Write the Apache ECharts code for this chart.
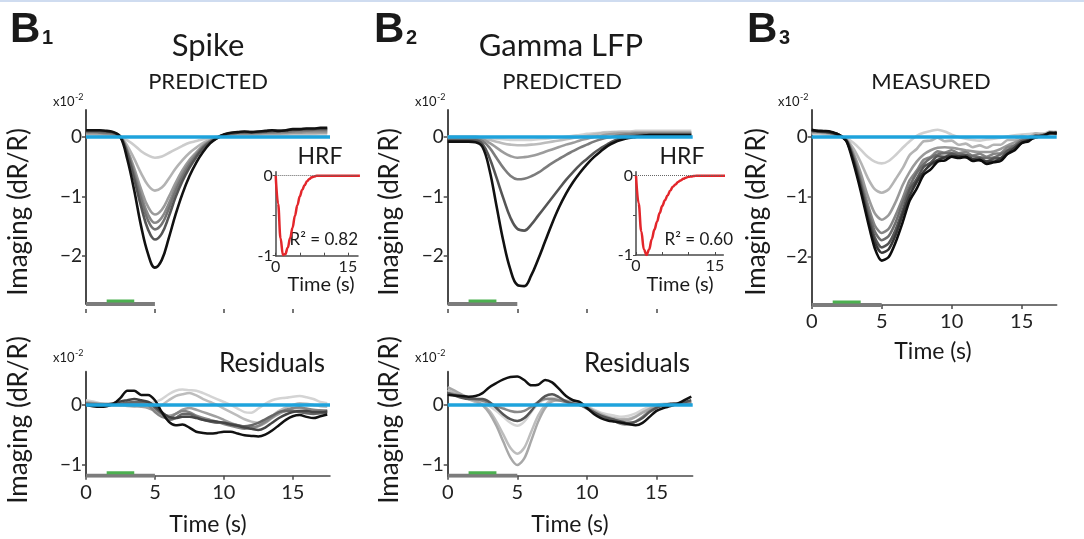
<!DOCTYPE html>
<html>
<head>
<meta charset="utf-8">
<script src="https://cdn.jsdelivr.net/npm/echarts@6/dist/echarts.min.js"></script>
<style>
html,body{margin:0;padding:0;background:#fff;}
#chart{width:1084px;height:539px;}
</style>
</head>
<body>
<div id="chart"></div>
<script>
// time base (s), shared by every trace
var T = [0,0.5,1,1.5,2,2.5,3,3.5,4,4.5,5,5.5,6,6.5,7,7.5,8,8.5,9,9.5,10,10.5,11,11.5,12,12.5,13,13.5,14,14.5,15,15.5,16,16.5,17,17.5];

// stimulus window and laser window (s)
var stimOn = [0, 5];
var laserOn = [1.5, 3.5];

// B1 spike predicted (x1e-2 dR/R)
var spike1 = [0.03,0.03,0.02,0.02,0.01,0.0,-0.06,-0.14,-0.24,-0.31,-0.35,-0.33, -0.27,-0.21,-0.15,-0.1,-0.07,-0.04,-0.02,0.0,0.01,0.01,0.02,0.02, 0.01,0.02,0.02,0.02,0.03,0.03,0.03,0.03,0.03,0.04,0.04,0.04];
var spike2 = [0.05,0.05,0.04,0.04,0.03,0.0,-0.15,-0.37,-0.61,-0.81,-0.9,-0.85, -0.7,-0.53,-0.39,-0.27,-0.18,-0.1,-0.05,-0.01,0.02,0.03,0.04,0.04, 0.04,0.04,0.05,0.05,0.05,0.05,0.06,0.06,0.06,0.06,0.07,0.07];
var spike3 = [0.06,0.06,0.06,0.05,0.04,0.0,-0.22,-0.53,-0.88,-1.17,-1.3,-1.22, -1.01,-0.77,-0.56,-0.39,-0.26,-0.14,-0.07,-0.01,0.03,0.04,0.05,0.05, 0.05,0.05,0.06,0.06,0.06,0.07,0.07,0.07,0.08,0.08,0.08,0.08];
var spike4 = [0.08,0.08,0.07,0.06,0.05,0.0,-0.24,-0.59,-0.98,-1.3,-1.44,-1.35, -1.12,-0.85,-0.62,-0.43,-0.29,-0.16,-0.07,-0.01,0.03,0.05,0.06,0.06, 0.06,0.07,0.07,0.07,0.08,0.08,0.09,0.09,0.1,0.1,0.1,0.1];
var spike5 = [0.09,0.09,0.08,0.07,0.06,0.0,-0.26,-0.64,-1.05,-1.4,-1.55,-1.46, -1.21,-0.91,-0.67,-0.47,-0.31,-0.17,-0.08,-0.02,0.03,0.05,0.07,0.07, 0.07,0.08,0.08,0.09,0.09,0.09,0.1,0.11,0.11,0.12,0.12,0.12];
var spike6 = [0.1,0.1,0.1,0.09,0.07,0.0,-0.29,-0.71,-1.17,-1.55,-1.72,-1.62, -1.34,-1.01,-0.74,-0.52,-0.34,-0.19,-0.09,-0.02,0.03,0.06,0.07,0.08, 0.08,0.08,0.09,0.1,0.1,0.11,0.12,0.12,0.13,0.13,0.14,0.14];
var spike7 = [0.11,0.11,0.11,0.1,0.08,0.0,-0.38,-0.9,-1.5,-1.96,-2.19,-2.06, -1.7,-1.3,-0.95,-0.66,-0.43,-0.25,-0.11,-0.02,0.04,0.07,0.08,0.09, 0.08,0.09,0.1,0.11,0.1,0.11,0.13,0.13,0.14,0.14,0.15,0.15];

// B2 gamma LFP predicted
var gamma1 = [0.0,0.0,0.0,0.0,0.0,-0.01,-0.02,-0.03,-0.04,-0.05,-0.05,-0.05, -0.05,-0.04,-0.03,-0.02,-0.01,0.0,0.02,0.03,0.05,0.06,0.07,0.08, 0.08,0.09,0.09,0.1,0.1,0.1,0.1,0.1,0.1,0.1,0.1,0.1];
var gamma2 = [0.0,0.0,0.0,0.0,0.0,-0.02,-0.05,-0.08,-0.11,-0.13,-0.14,-0.14, -0.13,-0.12,-0.1,-0.08,-0.06,-0.04,-0.02,0.0,0.02,0.04,0.06,0.07, 0.08,0.08,0.08,0.08,0.08,0.08,0.08,0.08,0.08,0.08,0.08,0.08];
var gamma3 = [-0.02,-0.02,-0.02,-0.02,-0.02,-0.04,-0.1,-0.18,-0.26,-0.32,-0.35,-0.34, -0.32,-0.29,-0.25,-0.21,-0.17,-0.13,-0.1,-0.06,-0.03,0.0,0.02,0.04, 0.05,0.06,0.06,0.07,0.07,0.07,0.07,0.07,0.07,0.07,0.07,0.07];
var gamma4 = [-0.04,-0.04,-0.04,-0.04,-0.04,-0.07,-0.18,-0.35,-0.52,-0.65,-0.71,-0.7, -0.66,-0.6,-0.52,-0.44,-0.37,-0.3,-0.24,-0.18,-0.13,-0.08,-0.04,-0.01, 0.01,0.03,0.04,0.05,0.05,0.05,0.05,0.05,0.05,0.05,0.05,0.05];
var gamma5 = [-0.06,-0.06,-0.06,-0.06,-0.06,-0.12,-0.35,-0.68,-1.03,-1.35,-1.54,-1.57, -1.47,-1.32,-1.17,-1.02,-0.87,-0.72,-0.59,-0.47,-0.37,-0.27,-0.19,-0.12, -0.06,-0.02,0.0,0.02,0.03,0.03,0.03,0.03,0.03,0.03,0.03,0.03];
var gamma6 = [-0.08,-0.08,-0.08,-0.08,-0.09,-0.17,-0.55,-1.15,-1.75,-2.22,-2.48,-2.5, -2.32,-2.05,-1.75,-1.45,-1.18,-0.95,-0.76,-0.6,-0.46,-0.34,-0.24,-0.15, -0.09,-0.05,-0.02,0.0,0.02,0.03,0.03,0.03,0.03,0.03,0.03,0.03];

// B3 measured
var meas1 = [0.06,0.05,0.04,0.03,0.01,-0.02,-0.1,-0.21,-0.33,-0.41,-0.44,-0.4, -0.3,-0.18,-0.07,0.02,0.07,0.1,0.12,0.09,0.04,0.0,-0.03,-0.05, -0.06,-0.04,-0.03,-0.01,0.01,0.03,0.04,0.05,0.06,0.06,0.08,0.09];
var meas2 = [0.08,0.07,0.06,0.05,0.02,-0.04,-0.2,-0.42,-0.68,-0.87,-0.93,-0.87, -0.7,-0.52,-0.3,-0.2,-0.07,-0.06,-0.01,-0.07,-0.06,-0.13,-0.11,-0.17, -0.14,-0.18,-0.13,-0.13,-0.05,-0.05,0.02,0.0,0.06,0.03,0.09,0.06];
var meas3 = [0.08,0.08,0.07,0.05,0.02,-0.05,-0.28,-0.6,-0.98,-1.27,-1.38,-1.3, -1.08,-0.8,-0.58,-0.41,-0.29,-0.22,-0.18,-0.17,-0.18,-0.2,-0.22,-0.24, -0.25,-0.25,-0.24,-0.2,-0.14,-0.09,-0.04,0.0,0.02,0.04,0.05,0.07];
var meas4 = [0.09,0.09,0.08,0.06,0.02,-0.06,-0.32,-0.7,-1.12,-1.47,-1.6,-1.53, -1.3,-1.02,-0.72,-0.56,-0.38,-0.33,-0.24,-0.26,-0.22,-0.27,-0.25,-0.31, -0.28,-0.33,-0.28,-0.27,-0.17,-0.14,-0.04,-0.04,0.03,0.01,0.07,0.05];
var meas5 = [0.1,0.09,0.08,0.06,0.02,-0.06,-0.35,-0.76,-1.2,-1.57,-1.72,-1.65, -1.42,-1.1,-0.82,-0.6,-0.45,-0.35,-0.29,-0.27,-0.27,-0.28,-0.3,-0.32, -0.34,-0.35,-0.34,-0.29,-0.22,-0.14,-0.07,-0.03,0.0,0.03,0.05,0.07];
var meas6 = [0.11,0.1,0.09,0.07,0.03,-0.07,-0.38,-0.8,-1.28,-1.67,-1.84,-1.77, -1.54,-1.22,-0.88,-0.7,-0.5,-0.43,-0.32,-0.33,-0.28,-0.32,-0.3,-0.37, -0.35,-0.41,-0.36,-0.35,-0.23,-0.18,-0.07,-0.06,0.02,0.01,0.07,0.05];
var meas7 = [0.11,0.1,0.09,0.07,0.03,-0.07,-0.4,-0.85,-1.34,-1.75,-1.93,-1.87, -1.63,-1.29,-0.98,-0.75,-0.58,-0.46,-0.38,-0.34,-0.32,-0.32,-0.34,-0.37, -0.39,-0.41,-0.41,-0.36,-0.28,-0.18,-0.1,-0.05,-0.01,0.03,0.06,0.08];
var meas8 = [0.12,0.1,0.1,0.08,0.03,-0.08,-0.45,-0.9,-1.4,-1.85,-2.06,-2.0, -1.75,-1.42,-1.06,-0.86,-0.63,-0.54,-0.41,-0.39,-0.33,-0.35,-0.33,-0.4, -0.38,-0.45,-0.42,-0.4,-0.28,-0.22,-0.1,-0.07,0.01,0.01,0.07,0.06];

// residuals, spike model
var resS1 = [0.08,0.06,0.03,0.02,0.02,0.0,-0.02,-0.03,0.0,0.02,0.05,0.1, 0.18,0.24,0.26,0.25,0.24,0.2,0.15,0.1,0.05,0.0,-0.06,-0.12, -0.13,-0.06,0.02,0.08,0.11,0.12,0.14,0.15,0.13,0.1,0.05,0.03];
var resS2 = [0.05,0.04,0.02,0.02,0.01,0.0,0.0,-0.01,-0.02,-0.03,-0.05,0.0, 0.08,0.15,0.18,0.2,0.16,0.1,0.05,0.0,-0.06,-0.12,-0.18,-0.24, -0.28,-0.3,-0.26,-0.18,-0.1,-0.04,0.0,0.03,0.02,0.0,-0.02,-0.03];
var resS3 = [0.04,0.03,0.02,0.01,0.0,0.0,-0.01,-0.02,-0.03,-0.05,-0.1,-0.15, -0.18,-0.15,-0.08,-0.05,-0.08,-0.12,-0.16,-0.2,-0.25,-0.3,-0.34,-0.37, -0.38,-0.36,-0.3,-0.22,-0.15,-0.1,-0.06,-0.05,-0.07,-0.1,-0.1,-0.09];
var resS4 = [0.03,0.02,0.01,0.0,0.0,0.0,0.02,0.03,0.02,0.0,-0.12,-0.2, -0.22,-0.15,-0.1,-0.12,-0.18,-0.22,-0.25,-0.28,-0.32,-0.35,-0.38,-0.4, -0.38,-0.35,-0.28,-0.2,-0.12,-0.08,-0.05,-0.04,-0.06,-0.08,-0.09,-0.1];
var resS5 = [0.02,0.01,0.0,0.0,0.01,0.02,0.04,0.05,0.05,0.05,-0.05,-0.15, -0.25,-0.22,-0.15,-0.15,-0.2,-0.25,-0.28,-0.3,-0.3,-0.32,-0.34,-0.36, -0.34,-0.3,-0.24,-0.18,-0.12,-0.1,-0.1,-0.12,-0.14,-0.15,-0.14,-0.13];
var resS6 = [0.01,0.0,0.0,0.01,0.03,0.06,0.08,0.1,0.08,0.05,-0.02,-0.12, -0.2,-0.22,-0.2,-0.2,-0.22,-0.25,-0.27,-0.28,-0.3,-0.33,-0.35,-0.38, -0.4,-0.42,-0.38,-0.3,-0.22,-0.16,-0.12,-0.1,-0.1,-0.12,-0.12,-0.11];
var resS7 = [0.0,-0.02,-0.03,-0.02,0.02,0.12,0.24,0.24,0.17,0.17,0.08,-0.12, -0.28,-0.34,-0.33,-0.38,-0.45,-0.47,-0.48,-0.47,-0.45,-0.45,-0.48,-0.51, -0.52,-0.53,-0.5,-0.43,-0.34,-0.25,-0.19,-0.17,-0.2,-0.22,-0.19,-0.16];

// residuals, gamma model
var resG1 = [0.25,0.2,0.15,0.1,0.07,0.03,-0.02,-0.1,-0.2,-0.3,-0.35,-0.28, -0.12,0.02,0.1,0.12,0.1,0.07,0.05,0.02,-0.02,-0.08,-0.13,-0.16, -0.18,-0.2,-0.18,-0.14,-0.08,-0.03,0.0,0.02,0.02,0.03,0.03,0.04];
var resG2 = [0.25,0.2,0.15,0.1,0.05,0.0,-0.1,-0.28,-0.5,-0.72,-0.82,-0.72, -0.45,-0.18,0.0,0.08,0.08,0.06,0.04,0.01,-0.04,-0.1,-0.15,-0.2, -0.22,-0.24,-0.23,-0.19,-0.12,-0.06,-0.02,0.0,0.0,0.01,0.02,0.03];
var resG3 = [0.3,0.24,0.18,0.12,0.07,0.0,-0.14,-0.35,-0.62,-0.88,-1.01,-0.9, -0.6,-0.28,-0.05,0.06,0.08,0.07,0.05,0.02,-0.03,-0.1,-0.16,-0.2, -0.24,-0.25,-0.25,-0.2,-0.13,-0.07,-0.02,0.0,0.02,0.03,0.03,0.04];
var resG4 = [0.2,0.18,0.15,0.12,0.1,0.07,0.03,-0.02,-0.06,-0.1,-0.12,-0.1, -0.03,0.05,0.1,0.1,0.08,0.05,0.02,0.0,-0.06,-0.13,-0.2,-0.25, -0.28,-0.32,-0.33,-0.28,-0.2,-0.1,-0.04,-0.01,0.0,0.01,0.02,0.03];
var resG5 = [0.2,0.16,0.12,0.1,0.1,0.1,0.05,-0.05,-0.16,-0.24,-0.27,-0.22, -0.1,0.05,0.15,0.18,0.13,0.06,0.02,0.0,-0.05,-0.12,-0.18,-0.22, -0.25,-0.28,-0.3,-0.28,-0.22,-0.12,-0.05,0.0,0.02,0.03,0.05,0.08];
var resG6 = [0.17,0.16,0.15,0.14,0.15,0.2,0.3,0.37,0.43,0.47,0.48,0.42, 0.33,0.34,0.42,0.38,0.27,0.15,0.08,0.05,-0.05,-0.15,-0.22,-0.26, -0.28,-0.3,-0.32,-0.34,-0.3,-0.2,-0.1,-0.05,-0.02,0.02,0.08,0.14];

// HRF kernels (normalised)
var hrfSpike = [0,-0.35,-0.78,-0.99,-0.98,-0.9,-0.78,-0.65,-0.5,-0.37,-0.26,-0.18, -0.12,-0.07,-0.04,-0.02,-0.01,0,0,0,0,0,0,0, 0,0,0,0,0,0,0,0,0,0,0,0];
var hrfGamma = [0,-0.35,-0.7,-0.93,-1.0,-0.93,-0.8,-0.68,-0.58,-0.47,-0.38,-0.31, -0.25,-0.19,-0.14,-0.11,-0.08,-0.06,-0.04,-0.025,-0.015,-0.01,-0.005,0, 0,0,0,0,0,0,0,0,0,0,0,0];

var xTicks = [0, 5, 10, 15];
var yTicksTop = [-2, -1, 0];
var yTicksRes = [-1, 0];

var FONT = 'Lato, "Liberation Sans", sans-serif';
var AX = '#4a4a4a';
var BLUE = '#1ea3dc';

function minus(v){
    return v < 0 ? '\u2212' + Math.abs(v) : String(v);
}

function makeX(gi, max, withLine, labels){
    return {
        type:'value', gridIndex:gi, min:0, max:max,
        offset: withLine ? 0 : 5,
        axisLine:{show:withLine, onZero:false, lineStyle:{color:AX, width:1.5}},
        axisTick:{show:true, customValues:xTicks, length:4, lineStyle:{color:AX, width:1.5}},
        axisLabel:{show:labels, customValues:xTicks, margin:7, color:'#222', fontSize:20, fontFamily:FONT},
        splitLine:{show:false}
    };
}

function makeY(gi, min, max, ticks){
    return {
        type:'value', gridIndex:gi, min:min, max:max,
        axisLine:{show:true, onZero:false, lineStyle:{color:AX, width:2}},
        axisTick:{show:true, customValues:ticks, length:4, lineStyle:{color:AX, width:1.5}},
        axisLabel:{customValues:ticks, margin:4, color:'#222', fontSize:19, fontFamily:FONT, formatter:minus},
        splitLine:{show:false}
    };
}

function curves(list, colors, gi, width, smooth){
    return list.map(function(vals, i){
        var s = {
            type:'line', xAxisIndex:gi, yAxisIndex:gi, silent:true,
            data: T.map(function(t, k){ return [t, vals[k]]; }),
            showSymbol:false, smooth:smooth, animation:false,
            lineStyle:{color:colors[i], width:width}
        };
        if(i == list.length - 1){
            s.markLine = {silent:true, symbol:'none', animation:false, label:{show:false},
                lineStyle:{color:BLUE, width:3.5, type:'solid'}, data:[{yAxis:0}]};
        }
        return s;
    });
}

function stim(gi, yMin){
    return [
        {type:'line', xAxisIndex:gi, yAxisIndex:gi, silent:true, showSymbol:false, animation:false,
         data:[[stimOn[0], yMin], [stimOn[1], yMin]], lineStyle:{color:'#7c7c7c', width:4}},
        {type:'line', xAxisIndex:gi, yAxisIndex:gi, silent:true, showSymbol:false, animation:false,
         data:[[laserOn[0], yMin + 0.05], [laserOn[1], yMin + 0.05]], lineStyle:{color:'#4cb050', width:3}}
    ];
}

function hrf(vals, gi){
    return {
        type:'line', xAxisIndex:gi, yAxisIndex:gi, silent:true, showSymbol:false, animation:false,
        smooth:0.4, smoothMonotone:'x',
        data: T.map(function(t, k){ return [t, vals[k]]; }),
        lineStyle:{color:'#e3262b', width:2.5},
        markLine:{silent:true, symbol:'none', animation:false, label:{show:false},
            lineStyle:{color:'#666', width:1, type:'dotted'}, data:[{yAxis:0}]}
    };
}

function insetX(gi, max){
    return {
        type:'value', gridIndex:gi, min:0, max:max,
        axisLine:{show:true, onZero:false, lineStyle:{color:AX, width:1.5}},
        axisTick:{show:true, inside:true, customValues:xTicks, length:3, lineStyle:{color:AX}},
        axisLabel:{customValues:[0, 15], margin:3, color:'#222', fontSize:16, fontFamily:FONT},
        splitLine:{show:false}
    };
}

function insetY(gi){
    return {
        type:'value', gridIndex:gi, min:-1, max:0.05,
        axisLine:{show:true, onZero:false, lineStyle:{color:AX, width:1.5}},
        axisTick:{show:true, customValues:[-1, -0.5, 0], length:3, lineStyle:{color:AX}},
        axisLabel:{customValues:[-1, 0], margin:3, color:'#222', fontSize:16, fontFamily:FONT},
        splitLine:{show:false}
    };
}

function txt(s, x, y, size, align, rot, weight, family){
    return {type:'text', x:x, y:y, rotation:rot || 0, silent:true,
        style:{text:s, fill:'#1a1a1a', textAlign:align || 'center', textVerticalAlign:'middle',
            font:(weight || 'normal') + ' ' + size + 'px ' + (family || FONT)}};
}

var topGray = ['#cccccc','#b3b3b3','#9b9b9b','#888888','#737373','#555555','#111111'];
var gammaGray = ['#d2d2d2','#bcbcbc','#9c9c9c','#7c7c7c','#555555','#111111'];
var measGray = ['#cfcfcf','#b4b4b4','#9a9a9a','#858585','#6e6e6e','#555555','#383838','#0d0d0d'];
var resSGray = ['#d4d4d4','#bdbdbd','#a0a0a0','#858585','#666666','#444444','#111111'];
var resGGray = ['#d4d4d4','#bdbdbd','#a8a8a8','#888888','#555555','#111111'];

var series = [].concat(
    curves([spike1,spike2,spike3,spike4,spike5,spike6,spike7], topGray, 0, 2.6, 0.4), stim(0, -2.8),
    curves([gamma1,gamma2,gamma3,gamma4,gamma5,gamma6], gammaGray, 1, 2.6, 0.4), stim(1, -2.8),
    curves([meas1,meas2,meas3,meas4,meas5,meas6,meas7,meas8], measGray, 2, 2.6, 0.25), stim(2, -2.8),
    curves([resS1,resS2,resS3,resS4,resS5,resS6,resS7], resSGray, 3, 2.5, 0.3), stim(3, -1.19),
    curves([resG1,resG2,resG3,resG4,resG5,resG6], resGGray, 4, 2.5, 0.3), stim(4, -1.19),
    [hrf(hrfSpike, 5), hrf(hrfGamma, 6)]
);

var graphics = [
    {type:'rect', shape:{x:0, y:0, width:1084, height:2}, style:{fill:'#cfdcf0'}, silent:true},
    txt('B', 10, 30, 42, 'left', 0, 'bold', '"Liberation Sans", Arial, sans-serif'),
    txt('1', 42, 38, 20, 'left', 0, 'bold', '"Liberation Sans", Arial, sans-serif'),
    txt('B', 374, 30, 42, 'left', 0, 'bold', '"Liberation Sans", Arial, sans-serif'),
    txt('2', 406, 38, 20, 'left', 0, 'bold', '"Liberation Sans", Arial, sans-serif'),
    txt('B', 747, 30, 42, 'left', 0, 'bold', '"Liberation Sans", Arial, sans-serif'),
    txt('3', 779, 38, 20, 'left', 0, 'bold', '"Liberation Sans", Arial, sans-serif'),
    txt('Spike', 208, 46, 31),
    txt('PREDICTED', 208, 82, 22),
    txt('Gamma LFP', 561, 46, 31),
    txt('PREDICTED', 562, 82, 22),
    txt('MEASURED', 931, 82, 22),
    txt('Residuals', 272, 364, 26),
    txt('Residuals', 637, 364, 26),
    txt('HRF', 320, 157, 23),
    txt('HRF', 682, 157, 23),
    txt('R\u00b2 = 0.82', 358, 240, 17, 'right'),
    txt('R\u00b2 = 0.60', 733, 240, 17, 'right'),
    txt('Time (s)', 321, 285, 20),
    txt('Time (s)', 680, 285, 20),
    txt('Time (s)', 933, 352, 23),
    txt('Time (s)', 208, 525, 23),
    txt('Time (s)', 570, 525, 23),
    txt('Imaging (dR/R)', 19, 212, 26, 'center', Math.PI / 2),
    txt('Imaging (dR/R)', 19, 420, 26, 'center', Math.PI / 2),
    txt('Imaging (dR/R)', 390, 212, 26, 'center', Math.PI / 2),
    txt('Imaging (dR/R)', 390, 420, 26, 'center', Math.PI / 2),
    txt('Imaging (dR/R)', 757, 212, 26, 'center', Math.PI / 2)
];

// "x10^-2" scale marks
[[53, 100], [415, 100], [778, 100], [53, 356], [415, 356]].forEach(function(p){
    graphics.push(txt('x10', p[0], p[1] + 2, 13, 'left'));
    graphics.push(txt('-2', p[0] + 22, p[1] - 3, 9, 'left'));
});

var option = {
    backgroundColor:'#ffffff',
    animation:false,
    grid:[
        {left:86, top:110, width:244, height:194},
        {left:447.7, top:110, width:245, height:194},
        {left:811.7, top:110, width:245, height:195},
        {left:86, top:371.7, width:244, height:104},
        {left:447.7, top:371.7, width:245, height:104},
        {left:275.7, top:171.7, width:82.3, height:84},
        {left:636, top:171.7, width:87.3, height:83.3}
    ],
    xAxis:[
        makeX(0, 17.7, false, false),
        makeX(1, 17.6, false, false),
        makeX(2, 17.5, true, true),
        makeX(3, 17.7, true, true),
        makeX(4, 17.6, true, true),
        insetX(5, 17.1),
        insetX(6, 16.6)
    ],
    yAxis:[
        makeY(0, -2.8, 0.45, yTicksTop),
        makeY(1, -2.8, 0.45, yTicksTop),
        makeY(2, -2.8, 0.45, yTicksTop),
        makeY(3, -1.19, 0.56, yTicksRes),
        makeY(4, -1.19, 0.56, yTicksRes),
        insetY(5),
        insetY(6)
    ],
    series:series,
    graphic:graphics
};

var myChart = echarts.init(document.getElementById('chart'), null, {renderer:'canvas'});
myChart.setOption(option);
</script>
</body>
</html>
